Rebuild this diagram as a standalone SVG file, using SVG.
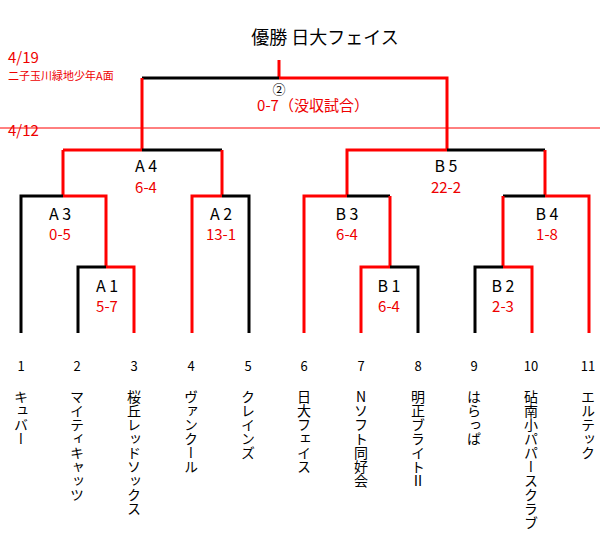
<svg xmlns="http://www.w3.org/2000/svg" width="600" height="547" viewBox="0 0 600 547">
<style>
.k{stroke:#000;stroke-width:3;fill:none}
.r{stroke:#f00;stroke-width:3;fill:none}
text{font-family:"Noto Sans CJK JP","Liberation Sans",sans-serif}
.lb{font-size:16px;text-anchor:middle;fill:#000}
.sc{font-size:15px;text-anchor:middle;fill:#e00}
.num{font-size:13px;text-anchor:middle;fill:#000}
.nm{font-size:14px;writing-mode:vertical-rl;text-orientation:upright;fill:#000}
</style>
<rect width="600" height="547" fill="#fff"/>
<line x1="0" y1="128" x2="600" y2="128" stroke="#f00" stroke-width="1"/>
<g id="connectors">
<path class="r" d="M279 60V78"/>
<path class="k" d="M142 78H279"/>
<path class="r" d="M279 78H447V150M142 78V150"/>
<path class="r" d="M63 150H142"/><path class="k" d="M142 150H222"/>
<path class="r" d="M63 150V196M222 150V196"/>
<path class="r" d="M347 196V150H447"/><path class="k" d="M447 150H545"/><path class="r" d="M545 150V196"/>
<path class="k" d="M21 333V196H63"/><path class="r" d="M63 196H106V267"/>
<path class="k" d="M78 333V267H106"/><path class="r" d="M106 267H134V333"/>
<path class="r" d="M192 333V196H222"/><path class="k" d="M222 196H249V333"/>
<path class="r" d="M304 333V196H347"/><path class="k" d="M347 196H390"/><path class="r" d="M390 196V267"/>
<path class="r" d="M361 333V267H390"/><path class="k" d="M390 267H418V333"/>
<path class="k" d="M503 196H545"/><path class="r" d="M545 196H589V333M503 196V267"/>
<path class="k" d="M475 333V267H503"/><path class="r" d="M503 267H532V333"/>
</g>
<text x="325" y="44" font-size="18" text-anchor="middle">優勝 日大フェイス</text>
<text x="8" y="63" font-size="15" fill="#e00">4/19</text>
<text x="8" y="80" font-size="11" fill="#e00">二子玉川緑地少年A面</text>
<text x="8" y="136" font-size="15" fill="#e00">4/12</text>
<g id="final"><text x="279" y="94" font-size="13" text-anchor="middle">②</text><text class="sc" x="313" y="111">0-7（没収試合）</text></g>
<g id="A4"><text class="lb" x="146" y="172">A 4</text><text class="sc" x="146" y="193">6-4</text></g>
<g id="B5"><text class="lb" x="446" y="172">B 5</text><text class="sc" x="446" y="193">22-2</text></g>
<g id="A3"><text class="lb" x="60" y="220">A 3</text><text class="sc" x="60" y="240">0-5</text></g>
<g id="A2"><text class="lb" x="221" y="220">A 2</text><text class="sc" x="221" y="240">13-1</text></g>
<g id="B3"><text class="lb" x="347" y="220">B 3</text><text class="sc" x="347" y="240">6-4</text></g>
<g id="B4"><text class="lb" x="547" y="220">B 4</text><text class="sc" x="547" y="240">1-8</text></g>
<g id="A1"><text class="lb" x="107" y="292">A 1</text><text class="sc" x="107" y="312">5-7</text></g>
<g id="B1"><text class="lb" x="389" y="292">B 1</text><text class="sc" x="389" y="312">6-4</text></g>
<g id="B2"><text class="lb" x="503" y="292">B 2</text><text class="sc" x="503" y="312">2-3</text></g>
<g id="teams">
<text class="num" x="21" y="371">1</text><text class="nm" x="21" y="390">キュバー</text>
<text class="num" x="77" y="371">2</text><text class="nm" x="77" y="390">マイティキャッツ</text>
<text class="num" x="134" y="371">3</text><text class="nm" x="134" y="390">桜丘レッドソックス</text>
<text class="num" x="191" y="371">4</text><text class="nm" x="191" y="390">ヴァンクール</text>
<text class="num" x="248" y="371">5</text><text class="nm" x="248" y="390">クレインズ</text>
<text class="num" x="304" y="371">6</text><text class="nm" x="304" y="390">日大フェイス</text>
<text class="num" x="361" y="371">7</text><text class="nm" x="361" y="390">Nソフト同好会</text>
<text class="num" x="418" y="371">8</text><text class="nm" x="418" y="390">明正ブライトⅡ</text>
<text class="num" x="474" y="371">9</text><text class="nm" x="474" y="390">はらっぱ</text>
<text class="num" x="531" y="371">10</text><text class="nm" x="531" y="390">砧南小パパースクラブ</text>
<text class="num" x="588" y="371">11</text><text class="nm" x="588" y="390">エルテック</text>
</g>
</svg>
